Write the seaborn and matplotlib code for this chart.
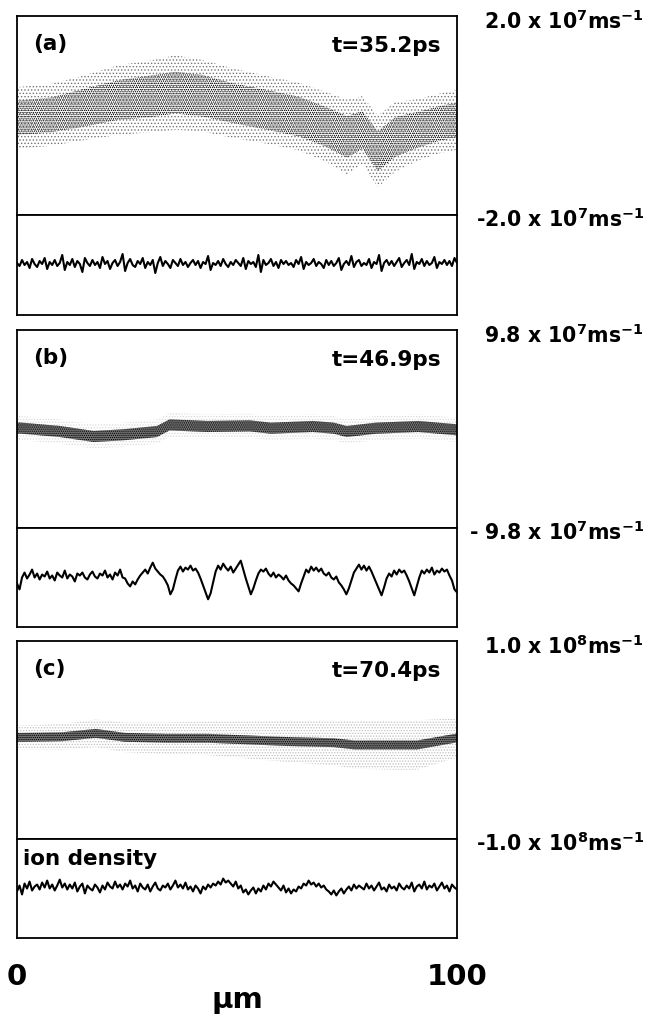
import numpy as np
import pandas as pd
import matplotlib
matplotlib.use("Agg")
import matplotlib.pyplot as plt
import seaborn as sns

sns.set_theme(style="white")
plt.rcParams["font.family"] = ["DejaVu Sans"]
plt.rcParams["font.weight"] = "bold"
plt.rcParams["text.color"] = "black"
plt.rcParams["xtick.color"] = "black"
plt.rcParams["mathtext.fontset"] = "dejavusans"
plt.rcParams["mathtext.default"] = "bf"
plt.rcParams["hatch.linewidth"] = 0.6

# ---------------- data ----------------
panel_tags = ["(a)", "(b)", "(c)"]
time_labels = ["t=35.2ps", "t=46.9ps", "t=70.4ps"]
vel_top_labels = [r"2.0 x 10$^{7}$ms$^{-1}$", r"9.8 x 10$^{7}$ms$^{-1}$", r"1.0 x 10$^{8}$ms$^{-1}$"]
vel_bot_labels = [r"-2.0 x 10$^{7}$ms$^{-1}$", r"- 9.8 x 10$^{7}$ms$^{-1}$", r"-1.0 x 10$^{8}$ms$^{-1}$"]
vel_limits = [2.0, 9.8, 1.0]
x_tick_labels = ["0", "100"]
x_axis_label = "μm"

# phase-space cloud: centre line and half widths (velocity units of the labels)
a_x = [0, 7.6, 15, 23, 30, 36, 42, 49, 57, 64, 70, 75, 78.5, 82, 86, 91, 96, 100]
a_c = [-0.05, 0.01, 0.15, 0.31, 0.38, 0.46, 0.40, 0.25, 0.11, -0.02, -0.22, -0.43, -0.29, -0.72, -0.43, -0.29, -0.16, -0.09]
a_in = [0.35, 0.35, 0.38, 0.40, 0.42, 0.42, 0.42, 0.40, 0.40, 0.40, 0.40, 0.42, 0.38, 0.40, 0.40, 0.36, 0.35, 0.35]
a_out = [0.62, 0.62, 0.65, 0.70, 0.72, 0.75, 0.72, 0.70, 0.68, 0.68, 0.70, 0.75, 0.68, 0.72, 0.70, 0.62, 0.60, 0.60]

b_x = [0, 1.1, 9.8, 17.4, 24, 31.8, 34.7, 43.3, 52.9, 57.7, 67.2, 72, 74.9, 81.6, 91.2, 100]
b_c = [0.1, 0.08, -0.25, -0.74, -0.58, -0.25, 0.41, 0.25, 0.31, 0.08, 0.25, 0.08, -0.25, 0.08, 0.25, -0.08]
b_in = [0.55] * 16
b_out = [1.2] * 16

c_x = [0, 1.7, 10.3, 17.9, 24.5, 34, 43.5, 53, 62.5, 72, 76.7, 86.2, 91, 99.5, 100]
c_c = [0.027, 0.027, 0.033, 0.067, 0.027, 0.017, 0.017, 0.0, -0.017, -0.027, -0.05, -0.05, -0.05, 0.017, 0.02]
c_in = [0.045] * 15
c_out = [0.12, 0.12, 0.13, 0.14, 0.15, 0.16, 0.17, 0.19, 0.21, 0.23, 0.24, 0.25, 0.25, 0.20, 0.20]

# ion density traces (arbitrary units, lower strip range 0-100)
dens_a = [52, 49, 55, 50, 53, 47, 56, 51, 48, 54,
          51, 57, 46, 53, 50, 55, 49, 52, 60, 45,
          53, 50, 56, 48, 54, 51, 43, 57, 52, 49,
          55, 50, 53, 47, 58, 51, 54, 46, 52, 55,
          49, 53, 61, 44, 52, 56, 50, 48, 54, 51,
          57, 47, 53, 50, 55, 42, 52, 58, 49, 54,
          51, 47, 55, 52, 49, 56, 50, 53, 48, 52,
          55, 50, 54, 47, 53, 51, 59, 45, 52, 50,
          54, 49, 56, 51, 48, 53, 50, 55, 52, 49,
          57, 46, 54, 51, 53, 48, 60, 43, 55, 50,
          52, 56, 49, 53, 47, 55, 51, 54, 50, 52,
          48, 55, 51, 58, 46, 53, 50, 52, 56, 49,
          53, 51, 47, 55, 50, 54, 49, 52, 57, 45,
          51, 54, 50, 59, 48, 53, 55, 49, 52, 50,
          56, 47, 53, 51, 60, 44, 52, 55, 50, 54,
          49, 53, 57, 48, 52, 55, 50, 61, 46, 53,
          51, 56, 49, 54, 50, 52, 58, 47, 53, 51,
          55, 50, 54, 49, 57, 52]
dens_b = [44, 38, 50, 55, 49, 53, 58, 50, 54, 48,
          53, 51, 56, 49, 52, 47, 55, 52, 50, 57,
          49, 53, 51, 46, 54, 52, 55, 50, 48, 53,
          56, 51, 49, 54, 52, 57, 50, 53, 48, 55,
          52, 58, 50, 49, 44, 41, 46, 43, 48, 52,
          55, 58, 54, 60, 65, 59, 56, 53, 51, 47,
          42, 33, 38, 48, 57, 61, 56, 60, 58, 62,
          57, 59, 55, 49, 42, 35, 28, 34, 45, 56,
          62, 58, 64, 60, 57, 61, 55, 59, 63, 67,
          58, 49, 41, 33, 39, 47, 54, 58, 56, 59,
          54, 51, 55, 50, 53, 51, 48, 52, 47, 44,
          42, 39, 36, 44, 51, 58, 55, 61, 57, 60,
          56, 59, 54, 52, 55, 50, 48, 51, 45, 42,
          38, 33, 39, 47, 55, 59, 63, 58, 62, 57,
          61, 56, 50, 44, 38, 32, 40, 49, 54, 51,
          57, 53, 58, 55, 57, 52, 46, 39, 32, 41,
          50, 57, 54, 58, 55, 60, 53, 57, 55, 59,
          56, 58, 52, 47, 38, 35]
dens_c = [47, 53, 44, 55, 50, 57, 48, 52, 54, 49,
          56, 51, 58, 50, 54, 48, 53, 59, 51, 55,
          49, 54, 50, 56, 47, 52, 55, 45, 53, 50,
          48, 54, 51, 46, 53, 49, 56, 52, 50, 57,
          51, 54, 49, 55, 52, 58, 50, 53, 47, 55,
          51, 49, 54, 47, 52, 56, 50, 48, 53, 51,
          55, 49, 53, 58, 51, 54, 50, 56, 49, 52,
          47, 53, 50, 45, 52, 49, 54, 51, 55, 53,
          57, 54, 60, 56, 58, 55, 52, 57, 50, 53,
          46, 49, 44, 48, 51, 45, 50, 47, 53, 49,
          55, 52, 57, 54, 51, 48, 53, 46, 50, 45,
          49, 47, 52, 50, 55, 53, 58, 54, 56, 52,
          55, 51, 53, 49, 47, 44, 48, 43, 47, 50,
          45, 49, 52, 48, 54, 50, 53, 51, 49, 55,
          50, 53, 48, 52, 56, 49, 51, 47, 54, 50,
          52, 48, 55, 51, 49, 53, 50, 56, 47, 52,
          54, 50, 57, 49, 53, 51, 55, 48, 52, 56,
          50, 53, 47, 54, 51, 49]

clouds = [(a_x, a_c, a_in, a_out), (b_x, b_c, b_in, b_out), (c_x, c_c, c_in, c_out)]
densities = [dens_a, dens_b, dens_c]
# (hatch, hatch colour, face colour) for inner core and outer halo
inner_style = [("........", "black", "none"), ("........", "black", "0.45"), ("........", "black", "0.45")]
outer_style = [(".....", "0.45", "none"), ("......", "0.85", "none"), ("......", "0.75", "none")]

# ---------------- layout (pixels of a 655x1021 canvas) ----------------
W, H = 655, 1021
fig = plt.figure(figsize=(W / 100, H / 100), dpi=100)
left_px, right_px = 17, 457
panels_px = [(16, 215, 315), (330, 528, 627), (641, 839, 938)]

def fax(top, bot):
    return fig.add_axes([left_px / W, (H - bot) / H, (right_px - left_px) / W, (bot - top) / H])

for k, (top, mid, bot) in enumerate(panels_px):
    ax_u = fax(top, mid)
    ax_l = fax(mid, bot)
    xs, cs, ins, outs = (np.asarray(v, float) for v in clouds[k])
    h, hc, fc = outer_style[k]
    ax_u.fill_between(xs, cs - outs, cs + outs, facecolor=fc, edgecolor=hc,
                      hatch=h, linewidth=0)
    h, hc, fc = inner_style[k]
    ax_u.fill_between(xs, cs - ins, cs + ins, facecolor=fc, edgecolor=hc,
                      hatch=h, linewidth=0)
    ax_u.set_ylim(-vel_limits[k], vel_limits[k])

    dens = densities[k]
    df = pd.DataFrame({"x": np.linspace(0, 100, len(dens)), "n": dens})
    sns.lineplot(data=df, x="x", y="n", ax=ax_l, color="black", linewidth=1.5)
    ax_l.set_ylim(0, 100)

    for ax in (ax_u, ax_l):
        ax.set_xlim(0, 100)
        ax.set_xticks([])
        ax.set_yticks([])
        ax.set_xlabel("")
        ax.set_ylabel("")
        for s in ax.spines.values():
            s.set_visible(True)
            s.set_color("black")
            s.set_linewidth(1.3)

    ax_u.text(0.036, 1 - 28 / (mid - top), panel_tags[k], transform=ax_u.transAxes,
              ha="left", va="center", fontsize=15.5, fontweight="bold")
    ax_u.text(0.965, 1 - 30 / (mid - top), time_labels[k], transform=ax_u.transAxes,
              ha="right", va="center", fontsize=15.5, fontweight="bold")
    fig.text(644 / W, 1 - (top + 5) / H, vel_top_labels[k], ha="right", va="center",
             fontsize=14.8, fontweight="bold")
    fig.text(644 / W, 1 - (mid + 4) / H, vel_bot_labels[k], ha="right", va="center",
             fontsize=14.8, fontweight="bold")

    if k == 2:
        ax_l.text(0.014, 0.80, "ion density", transform=ax_l.transAxes, ha="left",
                  va="center", fontsize=15.5, fontweight="bold")
        ax_l.set_xticks([0, 100])
        ax_l.set_xticklabels(x_tick_labels, fontsize=21, fontweight="bold")
        ax_l.tick_params(axis="x", length=0, pad=18)

fig.text((left_px + right_px) / 2 / W, 1 - 1000 / H, x_axis_label, ha="center", va="center",
         fontsize=21, fontweight="bold")

fig.savefig("out.png", dpi=100)
